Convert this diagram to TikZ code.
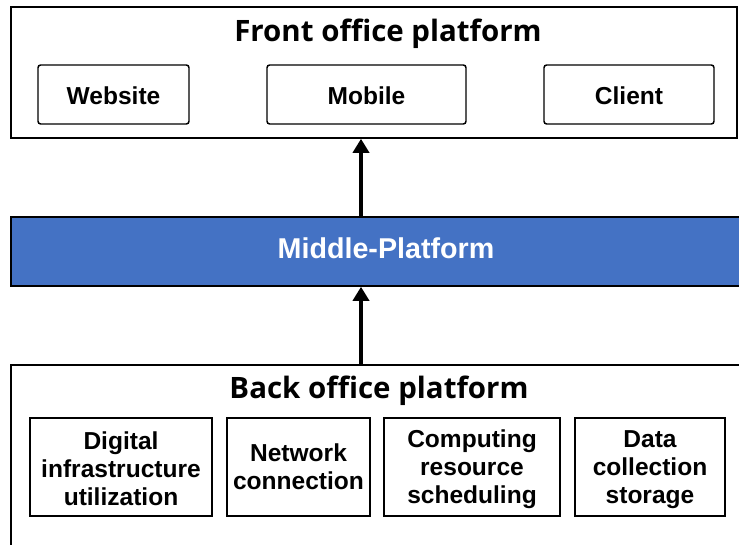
\documentclass[tikz,border=0pt]{standalone}
\usepackage{fontspec}
\setmainfont{Liberation Sans}
\newfontfamily\titlefont{Open Sans}
\usetikzlibrary{fit,arrows.meta}

\definecolor{midblue}{HTML}{4472C4}

\tikzset{
	frame/.style={draw, line width=1.2pt, inner sep=0pt},
	appbox/.style={draw, line width=1.1pt, rounded corners=2pt, inner sep=0pt},
	basebox/.style={draw, line width=1.1pt, inner sep=0pt},
	boxtext/.style={align=center, inner sep=0pt, font=\fontsize{18.4}{21}\selectfont\bfseries},
	heading/.style={font=\titlefont\fontsize{22.1}{26}\selectfont\bfseries},
	flow/.style={line width=3.2pt, -{Triangle[width=12pt,length=10.5pt]}}
}

\begin{document}
\begin{tikzpicture}[x=0.75pt,y=-0.75pt]
	\useasboundingbox (0,0) rectangle (739,545);
	\clip (0,0) rectangle (739,545);

	% Front office
	\node[frame, fit={(11,7) (737,138)}] (front) {};
	\node[heading] (fronttitle) at (388,34) {Front office platform};
	\node[appbox, fit={(38,65) (189,124)}] (website) {};
	\node[appbox, fit={(267,65) (466,124)}] (mobile) {};
	\node[appbox, fit={(544,65) (714,124)}] (client) {};
	\node[boxtext] at ([yshift=-1pt]website.center) {Website};
	\node[boxtext] at ([yshift=-1pt]mobile.center) {Mobile};
	\node[boxtext] at ([yshift=-1pt]client.center) {Client};

	% Middle platform
	\node[frame, fill=midblue, fit={(11,217) (745,286)}] (middle) {};
	\node[text=white, font=\fontsize{21.5}{25}\selectfont\bfseries] (midtitle) at (386,248) {Middle-Platform};

	% Back office
	\node[frame, fit={(11,365) (750,560)}] (back) {};
	\node[heading] (backtitle) at (379,391) {Back office platform};
	\node[basebox, fit={(30,418) (212,516)}] (digital) {};
	\node[basebox, fit={(227,418) (370,516)}] (network) {};
	\node[basebox, fit={(384,418) (560,516)}] (computing) {};
	\node[basebox, fit={(575,418) (725,516)}] (data) {};
	\node[boxtext] at ([yshift=-1pt]digital.center) {Digital\\infrastructure\\utilization};
	\node[boxtext] at (network.center) {Network\\connection};
	\node[boxtext] at ([yshift=-2pt]computing.center) {Computing\\resource\\scheduling};
	\node[boxtext] at ([yshift=-2pt]data.center) {Data\\collection\\storage};

	% Upward flow
	\coordinate (axis) at (361,0);
	\draw[flow] (axis |- middle.north) -- (axis |- front.south);
	\draw[flow] (axis |- back.north) -- (axis |- middle.south);
\end{tikzpicture}
\end{document}
